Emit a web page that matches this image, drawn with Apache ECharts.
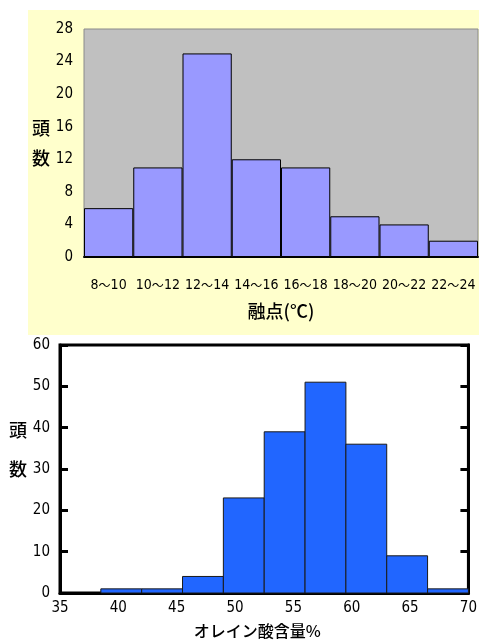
<!DOCTYPE html>
<html><head><meta charset="utf-8">
<script src="https://cdn.jsdelivr.net/npm/echarts@6/dist/echarts.min.js"></script>
<style>html,body{margin:0;padding:0;background:#fff}#c{width:480px;height:641px}</style>
</head><body><div id="c"></div>
<script>
// Top chart: melting point histogram
const meltCategories = ['8〜10','10〜12','12〜14','14〜16','16〜18','18〜20','20〜22','22〜24'];
const meltCounts = [6, 11, 25, 12, 11, 5, 4, 2];
// Bottom chart: oleic acid content histogram
const oleicBinStart = [38.5, 42, 45.5, 49, 52.5, 56, 59.5, 63, 66.5];
const oleicBinEnd   = [42, 45.5, 49, 52.5, 56, 59.5, 63, 66.5, 70];
const oleicCounts   = [1, 1, 4, 23, 39, 51, 36, 9, 1];

const FONT = "'DejaVu Sans Condensed','Liberation Sans Narrow','Noto Sans CJK JP',sans-serif";
const JP = "'Noto Sans CJK JP',sans-serif";

const oleicData = oleicBinStart.map((s, i) => [s, oleicBinEnd[i], oleicCounts[i]]);

const chart = echarts.init(document.getElementById('c'));
chart.setOption({
  animation: false,
  backgroundColor: '#ffffff',
  graphic: [{
    type: 'rect', z: -10, silent: true,
    shape: { x: 28, y: 10, width: 451, height: 325 },
    style: { fill: '#FFFFCC' }
  }],
  grid: [
    { left: 84, top: 29, width: 394, height: 228, show: true, backgroundColor: '#C0C0C0', borderColor: '#8a8a8a', borderWidth: 1 },
    { left: 60, top: 345, width: 411, height: 248, show: true, backgroundColor: '#ffffff', borderColor: '#000', borderWidth: 3 }
  ],
  xAxis: [
    {
      gridIndex: 0, type: 'category', data: meltCategories,
      axisLine: { lineStyle: { color: '#000', width: 2 } },
      axisTick: { show: false },
      axisLabel: {
        color: '#000', fontFamily: FONT, fontSize: 14, margin: 21, interval: 0,
        formatter: function (v) { const p = v.split('〜'); return p[0] + '{t|〜}' + p[1]; },
        rich: { t: { fontFamily: JP, fontSize: 12, color: '#000' } }
      },
      name: '融点(℃)', nameLocation: 'middle', nameGap: 45,
      nameTextStyle: { color: '#000', fontFamily: JP, fontSize: 18, fontWeight: 500 }
    },
    {
      gridIndex: 1, type: 'value', min: 35, max: 70, interval: 5,
      axisLine: { lineStyle: { color: '#000', width: 3 } },
      axisTick: { show: false },
      splitLine: { show: false },
      axisLabel: { color: '#000', fontFamily: FONT, fontSize: 15, margin: 8 },
      name: 'オレイン酸含量%', nameLocation: 'middle', nameGap: 30,
      nameTextStyle: { color: '#000', fontFamily: JP, fontSize: 16, fontWeight: 500, padding: [0, 14, 0, 0] }
    }
  ],
  yAxis: [
    {
      gridIndex: 0, type: 'value', min: 0, max: 28, interval: 4,
      axisLine: { show: false }, axisTick: { show: false }, splitLine: { show: false },
      axisLabel: { color: '#000', fontFamily: FONT, fontSize: 15, margin: 11 },
      name: '頭\n数', nameLocation: 'middle', nameRotate: 0, nameGap: 23,
      nameTextStyle: { color: '#000', fontFamily: JP, fontSize: 18, fontWeight: 500, lineHeight: 30 }
    },
    {
      gridIndex: 1, type: 'value', min: 0, max: 60, interval: 10,
      axisLine: { lineStyle: { color: '#000', width: 3 } },
      axisTick: { inside: true, length: 8, lineStyle: { color: '#000', width: 3 } },
      splitLine: { show: false },
      axisLabel: { color: '#000', fontFamily: FONT, fontSize: 15, margin: 10 },
      name: '頭\n数\n ', nameLocation: 'middle', nameRotate: 0, nameGap: 32,
      nameTextStyle: { color: '#000', fontFamily: JP, fontSize: 18, fontWeight: 500, lineHeight: 39 }
    },
    {
      gridIndex: 1, type: 'value', min: 0, max: 60, interval: 10, position: 'right',
      axisLine: { lineStyle: { color: '#000', width: 3 } },
      axisTick: { inside: true, length: 8, lineStyle: { color: '#000', width: 3 } },
      splitLine: { show: false },
      axisLabel: { show: false }
    }
  ],
  series: [
    {
      type: 'bar', xAxisIndex: 0, yAxisIndex: 0, data: meltCounts,
      barCategoryGap: '0%',
      itemStyle: { color: '#9999FF', borderColor: '#000', borderWidth: 1 }
    },
    {
      type: 'custom', xAxisIndex: 1, yAxisIndex: 1, data: oleicData,
      encode: { x: [0, 1], y: 2 },
      renderItem: function (params, api) {
        const p0 = api.coord([api.value(0), 0]);
        const p1 = api.coord([api.value(1), api.value(2)]);
        return {
          type: 'rect',
          shape: { x: p0[0], y: p1[1], width: p1[0] - p0[0], height: p0[1] - p1[1] },
          style: { fill: '#2166FF', stroke: '#1a1a1a', lineWidth: 1 }
        };
      }
    }
  ]
});
</script></body></html>
